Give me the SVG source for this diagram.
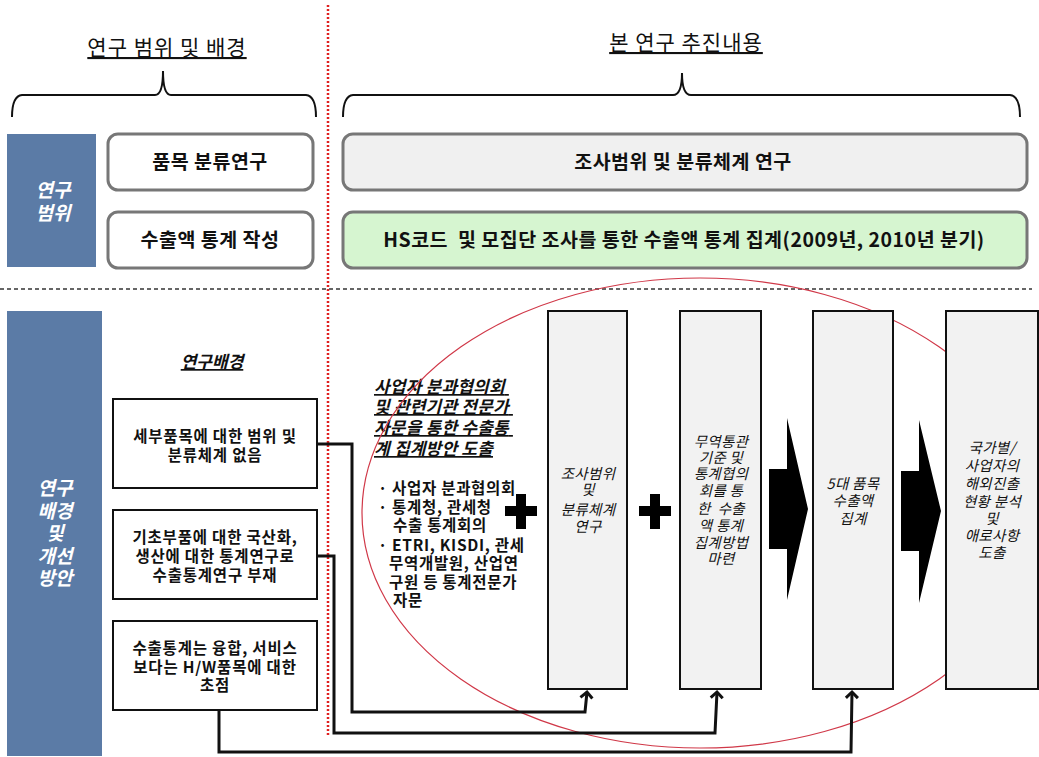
<svg xmlns="http://www.w3.org/2000/svg" width="1039" height="757" viewBox="0 0 1039 757">
<defs>
<style>
.k{font-family:"Noto Sans CJK KR","Noto Sans",sans-serif;}
.hd{font-size:21px;fill:#111;text-decoration:underline;letter-spacing:1px;}
.side{font-size:19px;fill:#fff;font-style:italic;font-weight:bold;}
.rb{fill:#fff;stroke:#777;stroke-width:3;}
.bt{font-size:19.5px;font-weight:bold;fill:#111;letter-spacing:0.5px;}
.lb{fill:#fff;stroke:#111;stroke-width:2;}
.lt{font-size:15.5px;font-weight:bold;fill:#111;letter-spacing:0.8px;}
.vb{fill:#f2f2f2;stroke:#111;stroke-width:2;}
.vt{font-size:14.5px;font-style:italic;fill:#111;letter-spacing:0.3px;}
.conn{fill:none;stroke:#111;stroke-width:3;}
</style>
<marker id="ah" viewBox="-8 -8 16 16" markerWidth="16" markerHeight="16" refX="0" refY="0" orient="auto" markerUnits="userSpaceOnUse">
<path d="M-6,-6 L0,0 L-6,6" fill="none" stroke="#111" stroke-width="3"/>
</marker>
</defs>
<rect width="1039" height="757" fill="#fff"/>

<g id="headers">
<text class="k hd" x="167" y="55" text-anchor="middle">연구 범위 및 배경</text>
<text class="k hd" x="686" y="50" text-anchor="middle">본 연구 추진내용</text>
<path d="M12,117 Q12,96 22,95 L155,95 Q163,95 163,71 Q163,95 171,95 L306,95 Q316,96 316,117" fill="none" stroke="#111" stroke-width="2"/>
<path d="M343,117 Q343,96 353,95 L673,95 Q682,95 682,73 Q682,95 691,95 L1010,95 Q1020,96 1020,117" fill="none" stroke="#111" stroke-width="2"/>
</g>

<g id="dividers">
<line x1="328" y1="5" x2="328" y2="735" stroke="#e02020" stroke-width="2.5" stroke-dasharray="2,2"/>
<line x1="0" y1="289" x2="1032" y2="289" stroke="#666" stroke-width="2" stroke-dasharray="4,3"/>
</g>

<g id="side1">
<rect x="7" y="134" width="89" height="133" fill="#5b7ba6"/>
<text class="k side" x="53" y="197" text-anchor="middle">연구</text>
<text class="k side" x="53" y="220" text-anchor="middle">범위</text>
</g>

<g id="box-pummok">
<rect class="rb" x="108" y="134" width="205" height="56" rx="10"/>
<text class="k bt" x="210" y="169" text-anchor="middle">품목 분류연구</text>
</g>
<g id="box-suchul">
<rect class="rb" x="108" y="212" width="205" height="56" rx="10"/>
<text class="k bt" x="210" y="247" text-anchor="middle">수출액 통계 작성</text>
</g>
<g id="box-josa">
<rect class="rb" x="343" y="134" width="684" height="56" rx="10" style="fill:#f0f0f0"/>
<text class="k bt" x="683" y="169" text-anchor="middle">조사범위 및 분류체계 연구</text>
</g>
<g id="box-hs">
<rect class="rb" x="343" y="212" width="684" height="56" rx="10" style="fill:#d6f5d0"/>
<text class="k bt" x="684" y="247" text-anchor="middle" xml:space="preserve">HS코드  및 모집단 조사를 통한 수출액 통계 집계(2009년, 2010년 분기)</text>
</g>

<g id="side2">
<rect x="7" y="311" width="95" height="445" fill="#5b7ba6"/>
<text class="k side" x="55" y="495" text-anchor="middle">연구</text>
<text class="k side" x="55" y="518" text-anchor="middle">배경</text>
<text class="k side" x="55" y="540" text-anchor="middle">및</text>
<text class="k side" x="55" y="563" text-anchor="middle">개선</text>
<text class="k side" x="55" y="585" text-anchor="middle">방안</text>
</g>

<g id="bg-title">
<text class="k" x="212" y="368" text-anchor="middle" font-size="17" font-style="italic" font-weight="bold" text-decoration="underline" fill="#111">연구배경</text>
</g>

<g id="box-a">
<rect class="lb" x="113" y="399" width="204" height="89"/>
<text class="k lt" x="215" y="442" text-anchor="middle">세부품목에 대한 범위 및</text>
<text class="k lt" x="215" y="461" text-anchor="middle">분류체계 없음</text>
</g>
<g id="box-b">
<rect class="lb" x="113" y="510" width="204" height="89"/>
<text class="k lt" x="215" y="543" text-anchor="middle">기초부품에 대한 국산화,</text>
<text class="k lt" x="215" y="562" text-anchor="middle">생산에 대한 통계연구로</text>
<text class="k lt" x="215" y="581" text-anchor="middle">수출통계연구 부재</text>
</g>
<g id="box-c">
<rect class="lb" x="113" y="621" width="204" height="89"/>
<text class="k lt" x="215" y="654" text-anchor="middle">수출통계는 융합, 서비스</text>
<text class="k lt" x="215" y="673" text-anchor="middle">보다는 H/W품목에 대한</text>
<text class="k lt" x="215" y="691" text-anchor="middle">초점</text>
</g>

<g id="consult-text">
<text class="k" font-size="17" font-style="italic" font-weight="bold" text-decoration="underline" fill="#111" letter-spacing="0.2">
<tspan x="374" y="393">사업자 분과협의회</tspan>
<tspan x="374" y="413">및 관련기관 전문가</tspan>
<tspan x="374" y="434">자문을 통한 수출통</tspan>
<tspan x="374" y="455">계 집계방안 도출</tspan>
</text>
<text class="k" font-size="15.5" font-weight="bold" fill="#111" letter-spacing="0.7">
<tspan x="378" y="494">·  사업자 분과협의회</tspan>
<tspan x="378" y="513">·  통계청, 관세청</tspan>
<tspan x="393" y="531">수출 통계회의</tspan>
<tspan x="378" y="551">·  ETRI, KISDI, 관세</tspan>
<tspan x="389" y="569">무역개발원, 산업연</tspan>
<tspan x="389" y="588">구원 등 통계전문가</tspan>
<tspan x="393" y="606">자문</tspan>
</text>
</g>

<g id="ellipse">
<ellipse cx="700" cy="513" rx="338" ry="235" fill="none" stroke="#d03848" stroke-width="1.2"/>
</g>

<g id="step1">
<rect class="vb" x="548" y="311" width="79" height="378"/>
<text class="k vt" text-anchor="middle"><tspan x="588" y="479">조사범위</tspan><tspan x="588" y="495">및</tspan><tspan x="588" y="515">분류체계</tspan><tspan x="588" y="532">연구</tspan></text>
</g>
<g id="step2">
<rect class="vb" x="680" y="311" width="81" height="378"/>
<text class="k vt" text-anchor="middle"><tspan x="721" y="447">무역통관</tspan><tspan x="721" y="463">기준 및</tspan><tspan x="721" y="479">통계협의</tspan><tspan x="721" y="496">회를 통</tspan><tspan x="721" y="514" xml:space="preserve">한  수출</tspan><tspan x="721" y="531">액 통계</tspan><tspan x="721" y="548">집계방법</tspan><tspan x="721" y="564">마련</tspan></text>
</g>
<g id="step3">
<rect class="vb" x="813" y="311" width="80" height="378"/>
<text class="k vt" text-anchor="middle"><tspan x="853" y="489">5대 품목</tspan><tspan x="853" y="506">수출액</tspan><tspan x="853" y="524">집계</tspan></text>
</g>
<g id="step4">
<rect class="vb" x="946" y="311" width="92" height="378"/>
<text class="k vt" text-anchor="middle"><tspan x="992" y="453">국가별/</tspan><tspan x="992" y="471">사업자의</tspan><tspan x="992" y="489">해외진출</tspan><tspan x="992" y="507">현황 분석</tspan><tspan x="992" y="524">및</tspan><tspan x="992" y="541">애로사항</tspan><tspan x="992" y="558">도출</tspan></text>
</g>

<g id="plus-signs" fill="#000">
<path d="M516,494 h10 v12 h11 v10 h-11 v13 h-10 v-13 h-11 v-10 h11 z"/>
<path d="M650,494 h10 v12 h11 v10 h-11 v13 h-10 v-13 h-11 v-10 h11 z"/>
</g>

<g id="big-arrows" fill="#000">
<path d="M769,469 L787,469 L787,418 L808,509 L787,600 L787,549 L769,549 Z"/>
<path d="M901,471 L919,471 L919,420 L941,511 L919,603 L919,551 L901,551 Z"/>
</g>

<g id="connectors">
<path class="conn" d="M317,444 L352,444 L352,712 L585,712 L587,692" marker-end="url(#ah)"/>
<path class="conn" d="M317,556 L334,556 L334,733 L715,733 L717,692" marker-end="url(#ah)"/>
<path class="conn" d="M219,710 L219,752 L851,752 L852,692" marker-end="url(#ah)"/>
</g>
</svg>
